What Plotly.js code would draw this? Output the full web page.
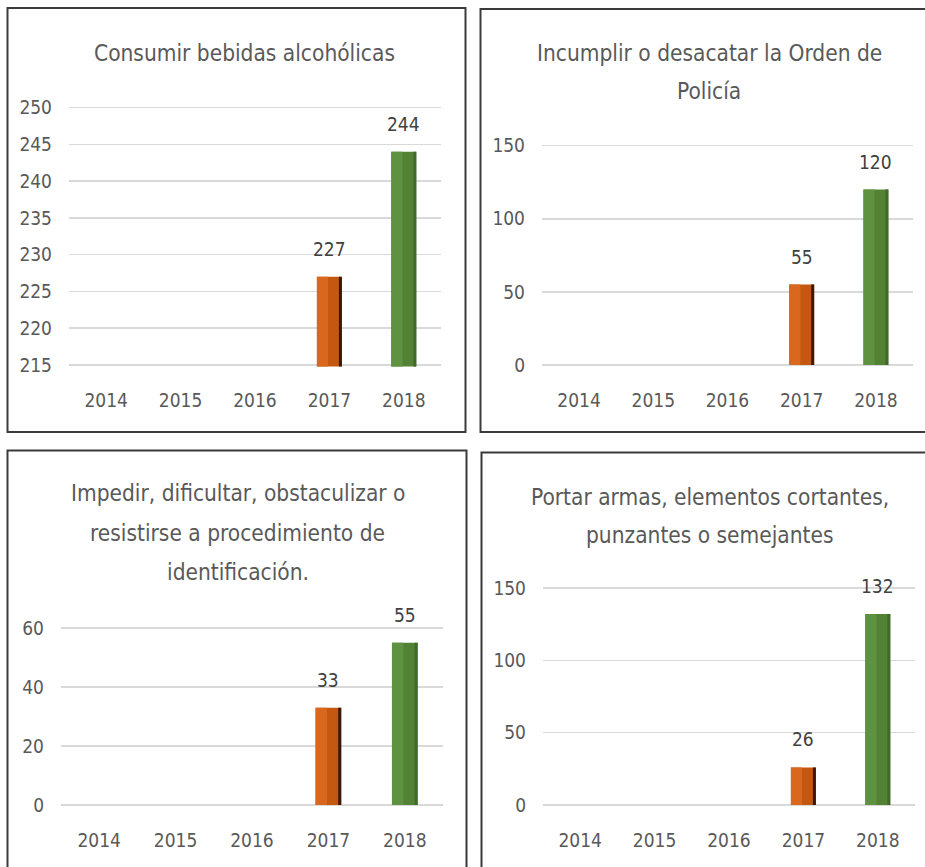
<!DOCTYPE html>
<html>
<head>
<meta charset="utf-8">
<script src="https://cdn.plot.ly/plotly-3.0.1.min.js"></script>
<style>
  html, body { margin: 0; padding: 0; background: #ffffff; }
  #chart { width: 925px; height: 867px; }
</style>
</head>
<body>
<div id="chart"></div>
<script>
// ---- data ----
const years = ['2014', '2015', '2016', '2017', '2018'];
const consumir = [null, null, null, 227, 244];
const incumplir = [null, null, null, 55, 120];
const impedir = [null, null, null, 33, 55];
const portar = [null, null, null, 26, 132];

const titleConsumir = ['Consumir bebidas alcohólicas'];
const titleIncumplir = ['Incumplir o desacatar la Orden de', 'Policía'];
const titleImpedir = ['Impedir, dificultar, obstaculizar o', 'resistirse a procedimiento de', 'identificación.'];
const titlePortar = ['Portar armas, elementos cortantes,', 'punzantes o semejantes'];

// ---- style ----
const FONT = '"Liberation Sans Narrow", "DejaVu Sans Condensed", "Liberation Sans", sans-serif';
const W = 925, H = 867;
const px = v => v / W;
const py = v => 1 - v / H;

const mainCol = ['#C55A11', '#C55A11', '#C55A11', '#C45810', '#548235'];
const lightCol = ['#D9671D', '#D9671D', '#D9671D', '#D9671D', '#5E9140'];
const darkCol = ['#3A1A07', '#3A1A07', '#3A1A07', '#3A1A07', '#3F6A27'];

const panels = [
  { vals: consumir, title: titleConsumir, xd: [69, 441], yd: [107.7, 365], range: [215, 250], dtick: 5,
    tx: 244, ty: [53], ax: '' },
  { vals: incumplir, title: titleIncumplir, xd: [542, 913], yd: [145.7, 365], range: [0, 150], dtick: 50,
    tx: 709, ty: [53, 91], ax: '2' },
  { vals: impedir, title: titleImpedir, xd: [61, 443], yd: [628, 805], range: [0, 60], dtick: 20,
    tx: 238, ty: [493, 533, 572], ax: '3' },
  { vals: portar, title: titlePortar, xd: [543, 915], yd: [588, 805], range: [0, 150], dtick: 50,
    tx: 710, ty: [497, 535], ax: '4' }
];

const traces = [];
const annotations = [];
const layout = {
  width: W, height: H,
  margin: { l: 0, r: 0, t: 0, b: 0 },
  paper_bgcolor: '#ffffff', plot_bgcolor: 'rgba(0,0,0,0)',
  showlegend: false,
  barmode: 'overlay',
  font: { family: FONT, color: '#595959' },
  shapes: [],
  annotations: annotations
};

panels.forEach(p => {
  const xa = 'x' + p.ax, ya = 'y' + p.ax;
  const layers = [
    { off: -0.168, w: 0.336, col: mainCol },
    { off: -0.168, w: 0.15, col: lightCol },
    { off: 0.128, w: 0.04, col: darkCol }
  ];
  layers.forEach(L => {
    traces.push({
      type: 'bar', x: years, y: p.vals, xaxis: xa, yaxis: ya,
      offset: L.off, width: L.w,
      marker: { color: L.col, line: { width: 0 } },
      hoverinfo: 'skip', cliponaxis: true
    });
  });
  // value labels
  years.forEach((yr, i) => {
    if (p.vals[i] === null) return;
    annotations.push({
      x: i, y: p.vals[i], xref: xa, yref: ya,
      text: String(p.vals[i]), showarrow: false,
      yanchor: 'bottom', yshift: 15,
      font: { family: FONT, size: 19, color: '#404040' }
    });
  });
  // titles
  p.title.forEach((line, k) => {
    annotations.push({
      x: px(p.tx), y: py(p.ty[k]), xref: 'paper', yref: 'paper',
      text: line, showarrow: false, xanchor: 'center', yanchor: 'middle',
      font: { family: FONT, size: 22.5, color: '#595959' }
    });
  });
  // pad the range slightly so the edge gridlines are drawn, keeping tick positions fixed
  const pxPerUnit = (p.yd[1] - p.yd[0]) / (p.range[1] - p.range[0]);
  const padPx = 1.6;
  const eps = padPx / pxPerUnit;
  const xkey = 'xaxis' + p.ax, ykey = 'yaxis' + p.ax;
  layout[xkey] = {
    domain: [px(p.xd[0]), px(p.xd[1])],
    anchor: ya, type: 'category', categoryarray: years, categoryorder: 'array',
    range: [-0.5, years.length - 0.5], autorange: false,
    showgrid: false, zeroline: false, showline: false, ticks: '',
    tickfont: { family: FONT, size: 19, color: '#595959' },
    ticklabelstandoff: 20, fixedrange: true
  };
  layout[ykey] = {
    domain: [py(p.yd[1] + padPx), py(p.yd[0] - padPx)],
    anchor: xa, range: [p.range[0] - eps, p.range[1] + eps], autorange: false,
    dtick: p.dtick, tick0: 0,
    showgrid: true, gridcolor: '#D9D9D9', gridwidth: 1.5,
    zeroline: false, showline: false, ticks: '',
    tickfont: { family: FONT, size: 19, color: '#595959' },
    ticklabelstandoff: 16, fixedrange: true
  };
});

// panel borders
const borders = [
  [7.5, 8, 465.5, 432],
  [480.5, 9, 940, 432],
  [7.5, 450.5, 466.5, 880],
  [481.5, 452.5, 940, 880]
];
borders.forEach(b => {
  layout.shapes.push({
    type: 'rect', xref: 'paper', yref: 'paper',
    x0: px(b[0]), x1: px(b[2]), y0: py(b[3]), y1: py(b[1]),
    line: { color: '#3a3a3a', width: 2 }, fillcolor: 'rgba(0,0,0,0)', layer: 'above'
  });
});

Plotly.newPlot('chart', traces, layout, { staticPlot: true, displayModeBar: false });
</script>
</body>
</html>
